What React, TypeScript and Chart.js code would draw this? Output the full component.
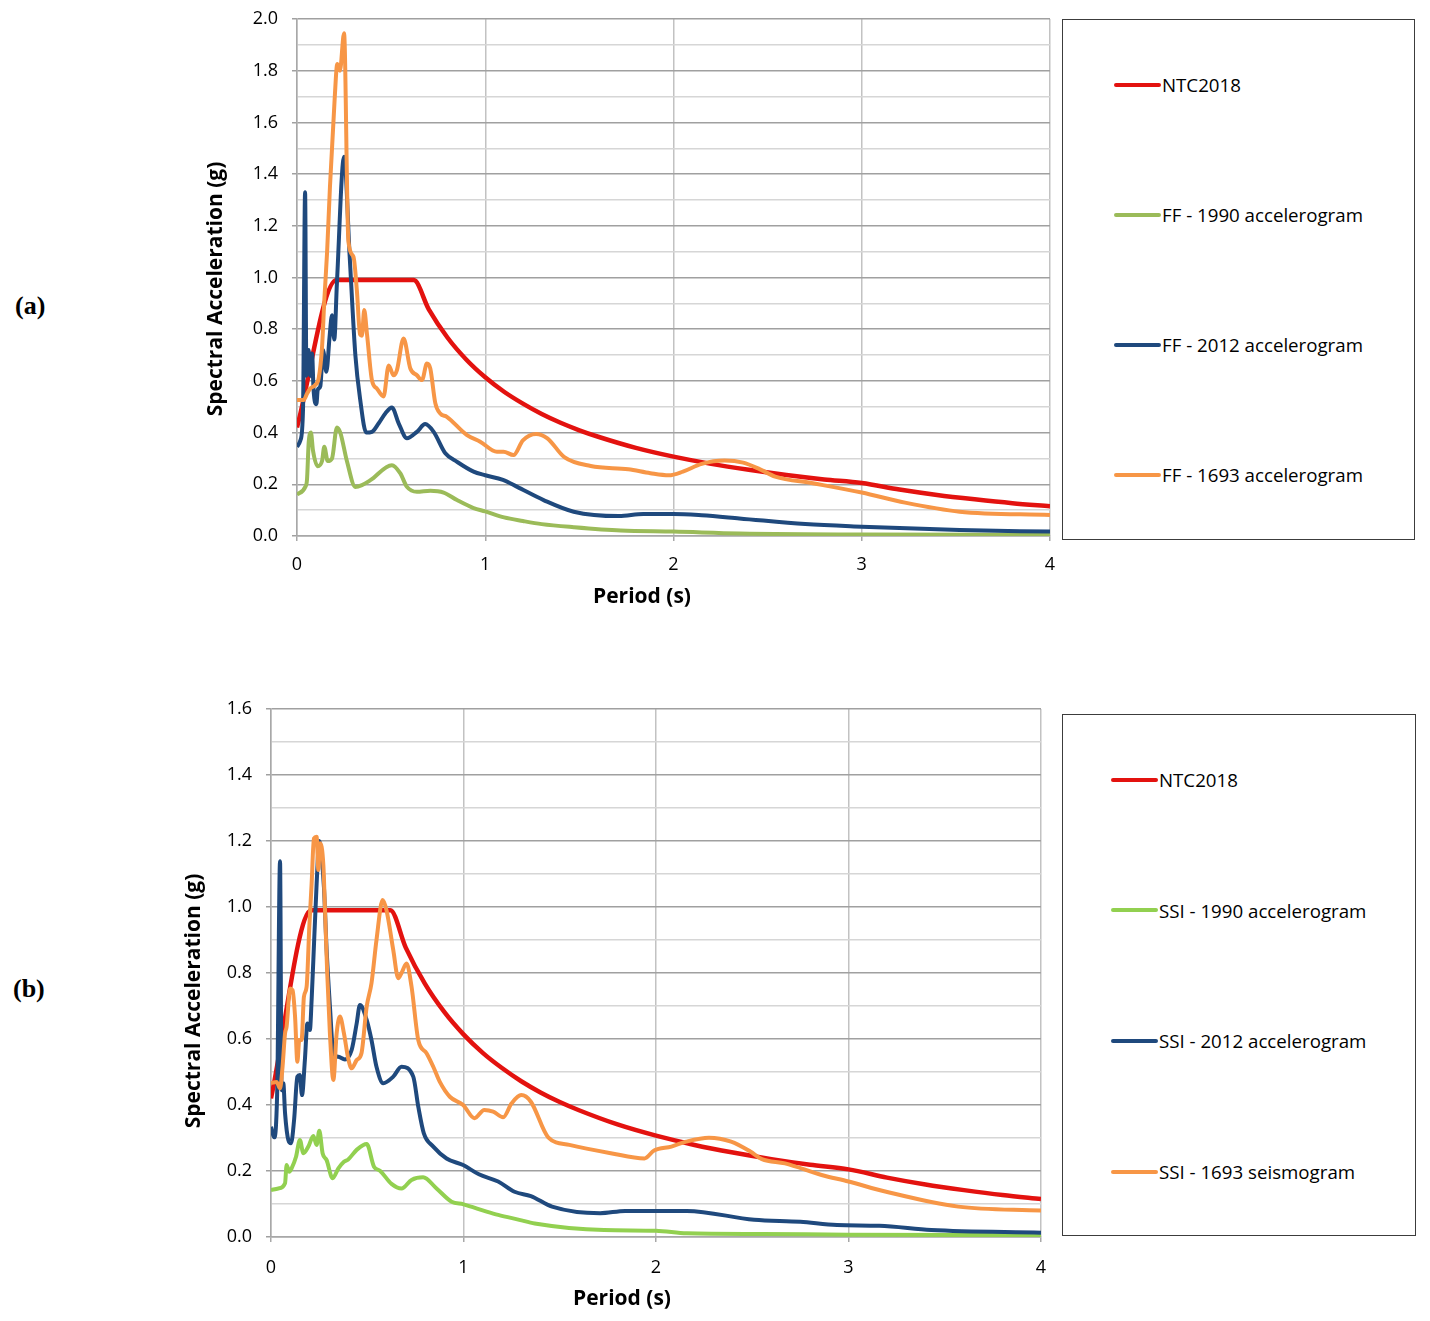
import React, { useEffect, useRef } from 'react';
import { Chart, registerables } from 'chart.js';

Chart.register(...registerables);

// ---- data (period in s, spectral acceleration in g) ----

// NTC2018 design spectrum (same in both panels)
const ntcPeriods = [0, 0.21, 0.62, 0.7, 0.8, 0.9, 1.0, 1.1, 1.2, 1.3, 1.4, 1.5, 1.6, 1.8, 2.0, 2.2, 2.4, 2.6, 2.8, 3.0, 3.2, 3.4, 3.6, 3.8, 4.0];
const ntcValues = [0.42, 0.99, 0.99, 0.877, 0.767, 0.682, 0.614, 0.558, 0.512, 0.472, 0.438, 0.409, 0.384, 0.341, 0.307, 0.279, 0.256, 0.236, 0.219, 0.205, 0.18, 0.159, 0.142, 0.127, 0.115];

// (a) free field
const ff1990Periods = [0, 0.044, 0.053, 0.062, 0.074, 0.085, 0.11, 0.133, 0.145, 0.163, 0.186, 0.212, 0.23, 0.265, 0.31, 0.345, 0.39, 0.504, 0.549, 0.584, 0.637, 0.708, 0.779, 0.85, 0.938, 1.0, 1.1, 1.2, 1.3, 1.47, 1.72, 2.0, 2.35, 3.0, 4.0];
const ff1990Values = [0.16, 0.19, 0.217, 0.36, 0.4, 0.33, 0.27, 0.29, 0.345, 0.29, 0.3, 0.42, 0.4, 0.29, 0.19, 0.197, 0.216, 0.274, 0.242, 0.19, 0.171, 0.175, 0.168, 0.139, 0.108, 0.095, 0.072, 0.058, 0.046, 0.034, 0.021, 0.017, 0.01, 0.006, 0.005];

const ff2012Periods = [0, 0.018, 0.032, 0.043, 0.05, 0.062, 0.07, 0.08, 0.088, 0.103, 0.11, 0.124, 0.138, 0.156, 0.173, 0.186, 0.198, 0.212, 0.25, 0.28, 0.31, 0.336, 0.368, 0.398, 0.434, 0.469, 0.504, 0.54, 0.584, 0.637, 0.681, 0.726, 0.788, 0.85, 0.938, 1.0, 1.094, 1.17, 1.31, 1.47, 1.71, 1.84, 2.0, 2.15, 2.35, 2.7, 3.0, 3.52, 4.0];
const ff2012Values = [0.345, 0.37, 0.49, 1.33, 0.62, 0.72, 0.62, 0.706, 0.565, 0.51, 0.565, 0.58, 0.72, 0.635, 0.77, 0.854, 0.76, 0.977, 1.467, 1.08, 0.7, 0.526, 0.4, 0.403, 0.436, 0.474, 0.497, 0.436, 0.378, 0.403, 0.433, 0.403, 0.32, 0.287, 0.249, 0.235, 0.217, 0.19, 0.139, 0.094, 0.077, 0.085, 0.085, 0.08, 0.068, 0.046, 0.036, 0.023, 0.017];

const ff1693Periods = [0, 0.035, 0.053, 0.07, 0.097, 0.115, 0.133, 0.145, 0.16, 0.175, 0.2, 0.214, 0.228, 0.25, 0.273, 0.3, 0.318, 0.335, 0.345, 0.357, 0.372, 0.398, 0.425, 0.46, 0.487, 0.513, 0.531, 0.566, 0.602, 0.637, 0.664, 0.69, 0.708, 0.735, 0.761, 0.796, 0.903, 0.973, 1.062, 1.097, 1.15, 1.2, 1.27, 1.33, 1.42, 1.56, 1.76, 1.877, 1.975, 2.05, 2.15, 2.27, 2.37, 2.46, 2.54, 2.74, 3.0, 3.23, 3.52, 4.0];
const ff1693Values = [0.526, 0.526, 0.55, 0.57, 0.584, 0.61, 0.73, 0.91, 1.1, 1.35, 1.69, 1.826, 1.8, 1.945, 1.14, 1.08, 0.95, 0.78, 0.775, 0.874, 0.78, 0.603, 0.57, 0.54, 0.66, 0.622, 0.642, 0.764, 0.648, 0.622, 0.603, 0.667, 0.648, 0.513, 0.474, 0.461, 0.39, 0.365, 0.326, 0.326, 0.313, 0.37, 0.395, 0.378, 0.305, 0.271, 0.258, 0.243, 0.235, 0.249, 0.279, 0.292, 0.284, 0.258, 0.23, 0.204, 0.168, 0.129, 0.094, 0.081];

// (b) soil-structure interaction
const ssi1990Periods = [0, 0.038, 0.073, 0.081, 0.095, 0.107, 0.13, 0.15, 0.168, 0.194, 0.22, 0.237, 0.251, 0.268, 0.289, 0.32, 0.35, 0.379, 0.401, 0.445, 0.497, 0.535, 0.566, 0.626, 0.678, 0.73, 0.79, 0.86, 0.938, 1.0, 1.12, 1.18, 1.29, 1.37, 1.73, 2.0, 2.16, 2.55, 3.0, 4.0];
const ssi1990Values = [0.142, 0.147, 0.163, 0.218, 0.198, 0.208, 0.243, 0.294, 0.254, 0.274, 0.306, 0.279, 0.322, 0.254, 0.233, 0.178, 0.208, 0.228, 0.235, 0.264, 0.282, 0.213, 0.201, 0.161, 0.147, 0.173, 0.181, 0.147, 0.107, 0.099, 0.077, 0.067, 0.052, 0.041, 0.021, 0.019, 0.011, 0.009, 0.007, 0.006];

const ssi2012Periods = [0, 0.016, 0.026, 0.033, 0.047, 0.055, 0.064, 0.073, 0.09, 0.104, 0.12, 0.137, 0.15, 0.161, 0.176, 0.189, 0.202, 0.211, 0.22, 0.237, 0.251, 0.263, 0.275, 0.289, 0.306, 0.324, 0.35, 0.384, 0.419, 0.445, 0.462, 0.497, 0.522, 0.548, 0.583, 0.635, 0.678, 0.739, 0.765, 0.794, 0.843, 0.912, 0.998, 1.08, 1.18, 1.265, 1.35, 1.46, 1.71, 1.84, 2.16, 2.51, 2.75, 2.94, 3.16, 3.43, 4.0];
const ssi2012Values = [0.334, 0.302, 0.339, 0.466, 1.139, 0.445, 0.466, 0.375, 0.294, 0.284, 0.355, 0.486, 0.491, 0.43, 0.536, 0.647, 0.627, 0.718, 0.84, 1.07, 1.2, 1.15, 1.06, 0.87, 0.7, 0.557, 0.546, 0.538, 0.567, 0.647, 0.703, 0.658, 0.597, 0.516, 0.466, 0.486, 0.516, 0.486, 0.395, 0.314, 0.274, 0.238, 0.218, 0.19, 0.168, 0.137, 0.124, 0.092, 0.072, 0.079, 0.079, 0.052, 0.046, 0.036, 0.034, 0.021, 0.013];

const ssi1693Periods = [0, 0.029, 0.047, 0.06, 0.073, 0.081, 0.099, 0.112, 0.125, 0.137, 0.147, 0.159, 0.171, 0.185, 0.199, 0.211, 0.223, 0.237, 0.246, 0.254, 0.272, 0.28, 0.292, 0.306, 0.324, 0.341, 0.358, 0.379, 0.401, 0.419, 0.445, 0.47, 0.497, 0.522, 0.548, 0.58, 0.6, 0.635, 0.661, 0.678, 0.704, 0.73, 0.765, 0.808, 0.843, 0.877, 0.929, 0.998, 1.057, 1.108, 1.154, 1.206, 1.25, 1.3, 1.35, 1.44, 1.55, 1.765, 1.94, 1.99, 2.08, 2.157, 2.275, 2.39, 2.49, 2.55, 2.67, 2.86, 3.0, 3.196, 3.57, 4.0];
const ssi1693Values = [0.466, 0.47, 0.45, 0.516, 0.617, 0.637, 0.753, 0.748, 0.668, 0.531, 0.597, 0.597, 0.728, 0.758, 0.94, 1.07, 1.208, 1.213, 1.112, 1.193, 1.127, 1.0, 0.8, 0.617, 0.476, 0.617, 0.668, 0.617, 0.541, 0.511, 0.536, 0.557, 0.698, 0.769, 0.9, 1.021, 0.99, 0.87, 0.784, 0.8, 0.829, 0.759, 0.597, 0.557, 0.516, 0.47, 0.425, 0.4, 0.36, 0.385, 0.38, 0.363, 0.405, 0.43, 0.41, 0.302, 0.279, 0.254, 0.238, 0.262, 0.274, 0.289, 0.301, 0.289, 0.259, 0.236, 0.223, 0.188, 0.168, 0.137, 0.092, 0.08];

const xTicks = [0, 1, 2, 3, 4];

const RED = '#E3120F';
const BLUE = '#1F497D';
const ORANGE = '#F79646';

const seriesA = [
  { label: 'NTC2018', color: RED, periods: ntcPeriods, values: ntcValues },
  { label: 'FF - 1990 accelerogram', color: '#9BBB59', periods: ff1990Periods, values: ff1990Values },
  { label: 'FF - 2012 accelerogram', color: BLUE, periods: ff2012Periods, values: ff2012Values },
  { label: 'FF - 1693 accelerogram', color: ORANGE, periods: ff1693Periods, values: ff1693Values },
];

const seriesB = [
  { label: 'NTC2018', color: RED, periods: ntcPeriods, values: ntcValues },
  { label: 'SSI - 1990 accelerogram', color: '#92D050', periods: ssi1990Periods, values: ssi1990Values },
  { label: 'SSI - 2012 accelerogram', color: BLUE, periods: ssi2012Periods, values: ssi2012Values },
  { label: 'SSI - 1693 seismogram', color: ORANGE, periods: ssi1693Periods, values: ssi1693Values },
];

const FONT = '"Open Sans", sans-serif';

const zip = (xs, ys) => xs.slice(0, Math.min(xs.length, ys.length)).map((x, i) => ({ x, y: ys[i] }));

const isMajor = (v) => Math.round(v * 10) % 2 === 0;

// draws the two axis titles at fixed spots (Excel does not centre them on the plot)
const axisTitlePlugin = {
  id: 'axisTitles',
  afterDraw(chart) {
    const o = chart.options.plugins.axisTitles;
    if (!o) return;
    const { ctx } = chart;
    ctx.save();
    ctx.fillStyle = '#000';
    ctx.font = `bold ${o.size}px ${FONT}`;
    ctx.textAlign = 'center';
    ctx.textBaseline = 'middle';
    ctx.fillText(o.xText, o.xPos[0], o.xPos[1]);
    ctx.translate(o.yPos[0], o.yPos[1]);
    ctx.rotate(-Math.PI / 2);
    ctx.fillText(o.yText, 0, 0);
    ctx.restore();
  },
};

const SpectrumChart = ({ series, yMax, box, yAxisWidth, xAxisHeight, padTop, padRight, xTickPad, titles }) => {
  const chartRef = useRef(null);
  const chartInstance = useRef(null);

  useEffect(() => {
    if (!chartRef.current) return;
    if (chartInstance.current) chartInstance.current.destroy();

    chartInstance.current = new Chart(chartRef.current, {
      type: 'line',
      data: {
        datasets: series.map((s, i) => ({
          label: s.label,
          data: zip(s.periods, s.values),
          borderColor: s.color,
          backgroundColor: s.color,
          borderWidth: i === 0 ? 4.5 : 4,
          pointRadius: 0,
          cubicInterpolationMode: 'monotone',
          fill: false,
          order: series.length - i,
        })),
      },
      options: {
        animation: false,
        responsive: false,
        layout: { padding: { top: padTop, right: padRight, left: 0, bottom: 0 } },
        plugins: {
          legend: { display: false },
          tooltip: { enabled: false },
          axisTitles: titles,
        },
        scales: {
          x: {
            type: 'linear',
            min: 0,
            max: 4,
            afterBuildTicks: (scale) => {
              scale.ticks = xTicks.map((v) => ({ value: v }));
            },
            ticks: { font: { family: FONT, size: 18 }, color: '#000', padding: xTickPad, maxRotation: 0 },
            grid: { color: '#c2c2c2', lineWidth: 1.5, tickLength: 5, tickColor: '#a8a8a8' },
            border: { color: '#a8a8a8', width: 1.5 },
            afterFit: (scale) => {
              scale.height = xAxisHeight;
              // keep the plot edges where the layout padding puts them
              scale.paddingLeft = 0;
              scale.paddingRight = 0;
            },
          },
          y: {
            type: 'linear',
            min: 0,
            max: yMax,
            ticks: {
              stepSize: 0.1,
              autoSkip: false,
              font: { family: FONT, size: 18 },
              color: '#000',
              padding: 14,
              callback: (v) => (isMajor(v) ? Number(v).toFixed(1) : ''),
            },
            grid: {
              color: (ctx) => (ctx.tick && isMajor(ctx.tick.value) ? '#a0a0a0' : '#d6d6d6'),
              tickColor: (ctx) => (ctx.tick && isMajor(ctx.tick.value) ? '#a0a0a0' : 'rgba(0,0,0,0)'),
              lineWidth: 1.5,
              tickLength: 5,
            },
            border: { color: '#a8a8a8', width: 1.5 },
            afterFit: (scale) => {
              scale.width = yAxisWidth;
              scale.paddingTop = 0;
              scale.paddingBottom = 0;
            },
          },
        },
      },
      plugins: [axisTitlePlugin],
    });

    return () => {
      if (chartInstance.current) {
        chartInstance.current.destroy();
        chartInstance.current = null;
      }
    };
  }, [series]);

  return (
    <canvas
      ref={chartRef}
      width={box.w}
      height={box.h}
      style={{ position: 'absolute', left: box.x, top: box.y, width: box.w, height: box.h }}
    />
  );
};

const LegendBox = ({ series, box, lineLeft, firstY, gap }) => (
  <div
    style={{
      position: 'absolute',
      left: box.x,
      top: box.y,
      width: box.w,
      height: box.h,
      border: '1.5px solid #3c3c3c',
      boxSizing: 'border-box',
      background: '#fff',
    }}
  >
    {series.map((s, i) => (
      <div
        key={s.label}
        style={{
          position: 'absolute',
          left: lineLeft,
          top: firstY + i * gap - 13,
          height: 26,
          display: 'flex',
          alignItems: 'center',
          whiteSpace: 'nowrap',
        }}
      >
        <span style={{ display: 'inline-block', width: 47, height: 4, background: s.color, borderRadius: 2 }} />
        <span style={{ fontFamily: FONT, fontSize: 18.7, color: '#000', marginLeft: 1 }}>{s.label}</span>
      </div>
    ))}
  </div>
);

const PanelLabel = ({ text, x, y }) => (
  <div
    style={{
      position: 'absolute',
      left: x,
      top: y - 16,
      height: 32,
      lineHeight: '32px',
      fontFamily: '"Liberation Serif", serif',
      fontWeight: 'bold',
      fontSize: 26,
      color: '#000',
    }}
  >
    {text}
  </div>
);

export default function App() {
  return (
    <div style={{ position: 'relative', width: 1430, height: 1321 }}>
      <PanelLabel text="(a)" x={7} y={298} />
      <SpectrumChart
        series={seriesA}
        yMax={2.0}
        box={{ x: 182, y: -8, w: 870, h: 630 }}
        yAxisWidth={107}
        xAxisHeight={94}
        padTop={19}
        padRight={10}
        xTickPad={13}
        titles={{ xText: 'Period (s)', yText: 'Spectral Acceleration (g)', size: 21, xPos: [452, 597], yPos: [26, 289] }}
      />
      <LegendBox series={seriesA} box={{ x: 1054, y: 11, w: 353, h: 521 }} lineLeft={51} firstY={64.5} gap={130} />

      <PanelLabel text="(b)" x={5} y={981} />
      <SpectrumChart
        series={seriesB}
        yMax={1.6}
        box={{ x: 162, y: 682, w: 880, h: 630 }}
        yAxisWidth={101}
        xAxisHeight={83}
        padTop={19}
        padRight={9}
        xTickPad={15}
        titles={{ xText: 'Period (s)', yText: 'Spectral Acceleration (g)', size: 21, xPos: [452, 609], yPos: [24, 311] }}
      />
      <LegendBox series={seriesB} box={{ x: 1054, y: 706, w: 354, h: 522 }} lineLeft={48} firstY={64.5} gap={130.7} />
    </div>
  );
}
